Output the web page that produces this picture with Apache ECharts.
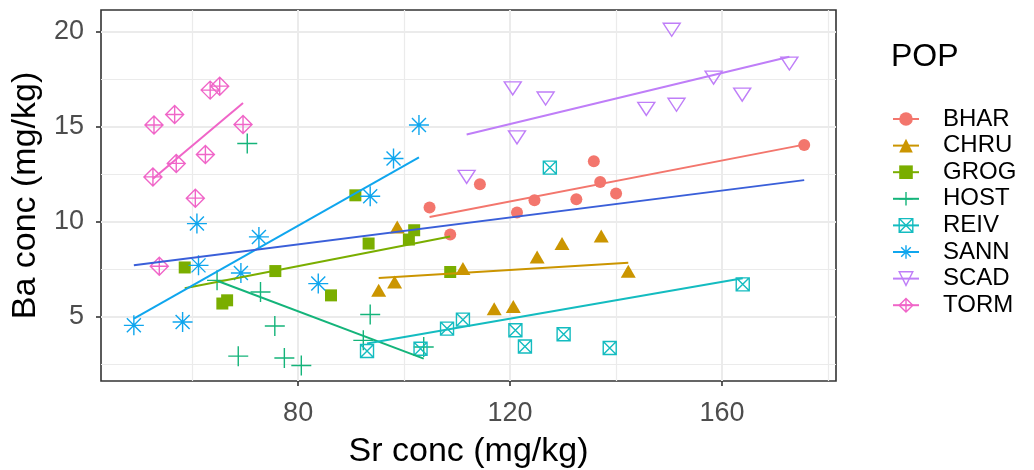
<!DOCTYPE html>
<html><head><meta charset="utf-8">
<script src="https://cdn.jsdelivr.net/npm/echarts@6/dist/echarts.min.js"></script>
<style>html,body{margin:0;padding:0;background:#fff}#c{width:1034px;height:470px}</style>
</head><body><div id="c"></div>
<script>
// ---------- data ----------
const groups = ['BHAR','CHRU','GROG','HOST','REIV','SANN','SCAD','TORM'];

const BHAR_x = [104.8,108.7,114.3,121.3,124.6,132.5,135.8,137.0,140.0,175.5];
const BHAR_y = [10.76,9.33,11.98,10.49,11.14,11.19,13.2,12.1,11.5,14.05];
const CHRU_x = [95.2,98.2,98.7,111.1,117.0,120.6,125.1,129.8,137.2,142.3];
const CHRU_y = [6.4,6.83,9.73,7.54,5.43,5.55,8.15,8.86,9.26,7.4];
const GROG_x = [58.6,65.7,66.6,75.7,86.2,90.8,93.3,100.9,101.9,108.7];
const GROG_y = [7.6,5.7,5.87,7.41,6.13,11.4,8.86,9.07,9.56,7.36];
const HOST_x = [64.7,68.7,70.4,72.9,75.6,77.4,80.6,92.3,93.6,103.7];
const HOST_y = [6.92,2.93,14.13,6.31,4.52,2.83,2.44,3.76,5.12,3.41];
const REIV_x = [93.0,103.1,108.1,111.1,121.0,122.8,127.5,130.1,138.8,163.9];
const REIV_y = [3.2,3.32,4.38,4.85,4.29,3.44,12.86,4.08,3.36,6.71];
const SANN_x = [49.0,58.2,60.9,61.2,69.2,72.6,83.8,93.6,98.0,102.8];
const SANN_y = [4.55,4.73,9.91,7.71,7.31,9.21,6.75,11.35,13.34,15.1];
const SCAD_x = [111.8,120.5,121.3,126.7,145.7,150.5,151.4,158.4,163.8,172.7];
const SCAD_y = [12.37,17.03,14.45,16.5,15.95,20.12,16.17,17.6,16.7,18.34];
const TORM_x = [52.6,52.8,53.8,56.7,57.0,60.6,62.5,63.4,65.2,69.6];
const TORM_y = [12.37,15.1,7.66,15.66,13.08,11.25,13.55,16.94,17.15,15.13];

// linear-fit end points (x, y) per group, and for all data
const BHAR_fit = [[104.8,10.26],[175.5,14.07]];
const CHRU_fit = [[95.2,7.05],[142.3,7.85]];
const GROG_fit = [[58.6,6.5],[108.7,9.23]];
const HOST_fit = [[64.7,6.9],[103.7,2.8]];
const REIV_fit = [[93.0,3.59],[163.9,7.03]];
const SANN_fit = [[49.0,4.9],[102.8,13.4]];
const SCAD_fit = [[111.8,14.6],[172.7,18.7]];
const TORM_fit = [[52.6,12.27],[69.6,16.26]];
const ALL_fit  = [[49.0,7.72],[175.5,12.2]];

const xTicks = [80,120,160];
const xMinor = [60,100,140,180];
const yTicks = [5,10,15,20];
const yMinor = [2.5,7.5,12.5,17.5];
const xLabel = 'Sr conc (mg/kg)';
const yLabel = 'Ba conc (mg/kg)';
const legendTitle = 'POP';

// ---------- styles ----------
const FONT = 'Liberation Sans, Arial, sans-serif';
const colors = {BHAR:'#F3766D',CHRU:'#CB9500',GROG:'#7AAE00',HOST:'#14B47A',REIV:'#14BCC0',SANN:'#0FA6EE',SCAD:'#BF7EF8',TORM:'#F065C8'};
const P = {
  plus: 'path://M0 5L10 5M5 0L5 10',
  star: 'path://M0 5L10 5M5 0L5 10M1.5 1.5L8.5 8.5M1.5 8.5L8.5 1.5',
  boxx: 'path://M0 0L10 0L10 10L0 10ZM0 0L10 10M0 10L10 0',
  dtri: 'path://M0 0L10 0L5 8.66Z',
  dplus:'path://M5 0L10 5L5 10L0 5ZM0 5L10 5M5 0L5 10'
};
const sym = {
  BHAR:{s:'circle', size:12, open:false},
  CHRU:{s:'triangle', size:[15,13], open:false},
  GROG:{s:'rect', size:12, open:false},
  HOST:{s:P.plus, size:20, open:true},
  REIV:{s:P.boxx, size:13, open:true},
  SANN:{s:P.star, size:20, open:true},
  SCAD:{s:P.dtri, size:[17,15], open:true},
  TORM:{s:P.dplus, size:18, open:true}
};
const dataX = {BHAR:BHAR_x,CHRU:CHRU_x,GROG:GROG_x,HOST:HOST_x,REIV:REIV_x,SANN:SANN_x,SCAD:SCAD_x,TORM:TORM_x};
const dataY = {BHAR:BHAR_y,CHRU:CHRU_y,GROG:GROG_y,HOST:HOST_y,REIV:REIV_y,SANN:SANN_y,SCAD:SCAD_y,TORM:TORM_y};
const fits = {BHAR:BHAR_fit,CHRU:CHRU_fit,GROG:GROG_fit,HOST:HOST_fit,REIV:REIV_fit,SANN:SANN_fit,SCAD:SCAD_fit,TORM:TORM_fit};

const series = [];
// fit lines first (so legend icons come from them: line + symbol)
groups.forEach(g => {
  const c = colors[g];
  series.push({
    type:'line', name:g, data:fits[g], z:4, showSymbol:false, symbol:sym[g].s, symbolKeepAspect:true,
    silent:true, animation:false,
    lineStyle:{color:c, width:2}, itemStyle:{color:c}
  });
});
series.push({
  type:'line', name:'all', data:ALL_fit, z:4, showSymbol:false, silent:true, animation:false,
  lineStyle:{color:'#3A5FD9', width:2}, itemStyle:{color:'#3A5FD9'}
});
groups.forEach(g => {
  const c = colors[g];
  const o = sym[g];
  series.push({
    type:'scatter', name:g, z:3, animation:false, symbol:o.s, symbolSize:o.size, symbolKeepAspect:true,
    data:dataX[g].map((x,i)=>[x,dataY[g][i]]),
    itemStyle: o.open ? {color:'rgba(0,0,0,0)', borderColor:c, borderWidth:1.4, opacity:1}
                      : {color:c, opacity:1}
  });
});
// panel grid lines
const gl = (v, key, w) => ({[key]:v, lineStyle:{color:'#EBEBEB', width:w, type:'solid'}});
series.push({
  type:'line', name:'grid', data:[], silent:true, animation:false, z:1,
  markLine:{
    silent:true, animation:false, symbol:['none','none'], label:{show:false}, z:1,
    emphasis:{disabled:true},
    data:[].concat(
      xMinor.map(v=>gl(v,'xAxis',1.2)), yMinor.map(v=>gl(v,'yAxis',1.2)),
      xTicks.map(v=>gl(v,'xAxis',2)), yTicks.map(v=>gl(v,'yAxis',2)))
  }
});

const chart = echarts.init(document.getElementById('c'), null, {renderer:'canvas'});
chart.setOption({
  animation:false,
  backgroundColor:'#fff',
  title:{text:legendTitle, left:891, top:41, padding:0,
    textStyle:{fontFamily:FONT, fontSize:32, fontWeight:'normal', color:'#000'}},
  legend:{
    orient:'vertical', left:892, top:107, padding:0, itemWidth:26, itemHeight:17, itemGap:2.6,
    selectedMode:false,
    textStyle:{fontFamily:FONT, fontSize:24, color:'#000', lineHeight:24, padding:[0,0,0,19]},
    data: groups.map(g => sym[g].open
      ? {name:g, itemStyle:{color:'rgba(0,0,0,0)', borderColor:colors[g], borderWidth:1.4}}
      : {name:g})
  },
  grid:{left:101, top:10, width:735, height:371, show:true, borderColor:'#333', borderWidth:1.6,
    backgroundColor:'#fff', containLabel:false, outerBoundsMode:'none'},
  xAxis:{
    type:'value', min:42.8, max:181.5,
    name:xLabel, nameLocation:'middle', nameGap:54,
    nameTextStyle:{fontFamily:FONT, fontSize:34, color:'#000'},
    axisLine:{show:false},
    axisTick:{show:true, length:5, lineStyle:{color:'#333', width:1.6}, customValues:xTicks},
    axisLabel:{show:true, margin:19, fontFamily:FONT, fontSize:27, color:'#4D4D4D', customValues:xTicks},
    splitLine:{show:false}
  },
  yAxis:{
    type:'value', min:1.62, max:21.16,
    name:yLabel, nameLocation:'middle', nameGap:58,
    nameTextStyle:{fontFamily:FONT, fontSize:34, color:'#000'},
    axisLine:{show:false},
    axisTick:{show:true, length:5, lineStyle:{color:'#333', width:1.6}, customValues:yTicks},
    axisLabel:{show:true, margin:17, fontFamily:FONT, fontSize:27, color:'#4D4D4D', customValues:yTicks},
    splitLine:{show:false}
  },
  series: series
});
</script></body></html>
